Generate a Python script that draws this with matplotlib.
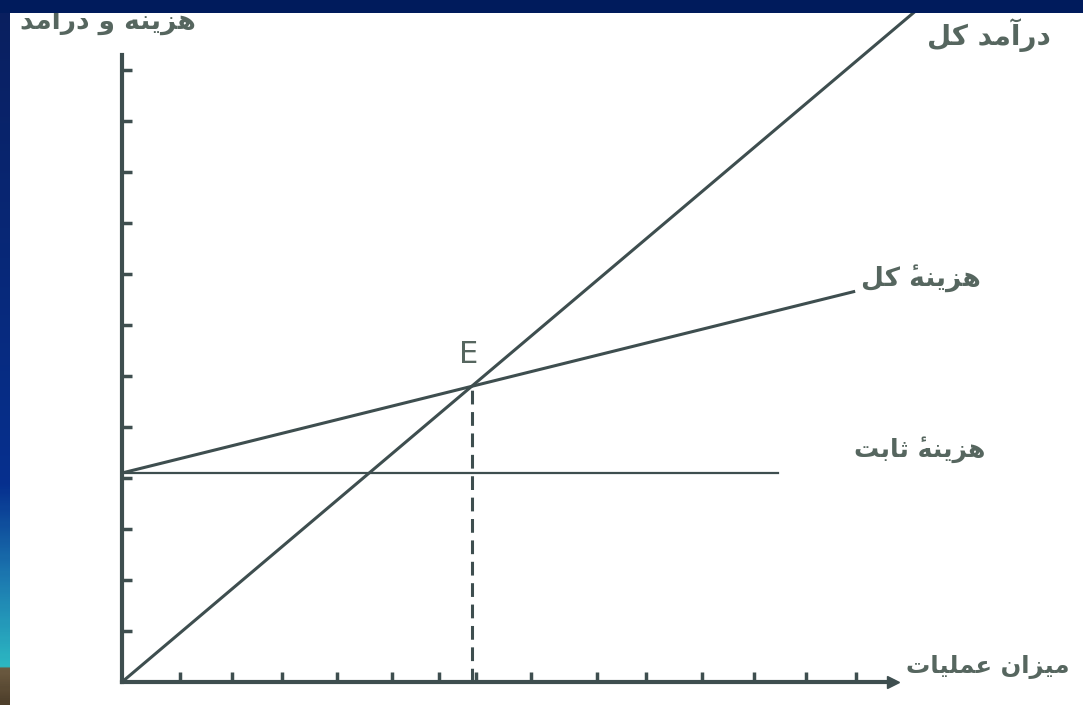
import matplotlib.pyplot as plt
import numpy as np
from matplotlib.colors import LinearSegmentedColormap
from matplotlib.patches import Rectangle

# Persian labels
y_label = 'هزینه و درآمد'
x_label = 'میزان عملیات'
revenue_label = 'درآمد کل'
total_cost_label = 'هزینهٔ کل'
fixed_cost_label = 'هزینهٔ ثابت'
point_label = 'E'

# values (axis units)
x_ticks = [1.1, 2.1, 3.05, 4.1, 5.15, 6.05, 6.75, 7.8, 9.05, 10.0, 11.05, 12.05, 13.05, 14.0]
y_ticks = [1, 2, 3, 4, 5, 6, 7, 8, 9, 10, 11, 12]
x_max = 14.7
y_max = 12.3
fixed_cost = 4.1
variable_cost = 0.255  # slope of total cost
price = 0.87           # slope of total revenue
fixed_end = 12.5
cost_end = 13.95
revenue_end = 15.6

# simple shaping: presentation forms (iso, fin, ini, med) and visual order
forms = {
    'ا': (0xFE8D, 0xFE8E), 'آ': (0xFE81, 0xFE82),
    'د': (0xFEA9, 0xFEAA), 'ر': (0xFEAD, 0xFEAE),
    'ز': (0xFEAF, 0xFEB0), 'و': (0xFEED, 0xFEEE),
    'ب': (0xFE8F, 0xFE90, 0xFE91, 0xFE92), 'ت': (0xFE95, 0xFE96, 0xFE97, 0xFE98),
    'ث': (0xFE99, 0xFE9A, 0xFE9B, 0xFE9C), 'ع': (0xFEC9, 0xFECA, 0xFECB, 0xFECC),
    'ک': (0xFB8E, 0xFB8F, 0xFB90, 0xFB91), 'ل': (0xFEDD, 0xFEDE, 0xFEDF, 0xFEE0),
    'م': (0xFEE1, 0xFEE2, 0xFEE3, 0xFEE4), 'ن': (0xFEE5, 0xFEE6, 0xFEE7, 0xFEE8),
    'ه': (0xFEE9, 0xFEEA, 0xFEEB, 0xFEEC), 'ی': (0xFBFC, 0xFBFD, 0xFBFE, 0xFBFF),
}
marks = {'\u0654'}


def shape(s):
    bases = [c for c in s]
    out = []
    for i, c in enumerate(bases):
        if c not in forms:
            out.append(c)
            continue
        j = i - 1
        while j >= 0 and bases[j] in marks:
            j -= 1
        k = i + 1
        while k < len(bases) and bases[k] in marks:
            k += 1
        prev_join = j >= 0 and bases[j] in forms and len(forms[bases[j]]) == 4
        next_join = k < len(bases) and bases[k] in forms
        f = forms[c]
        if len(f) == 4 and prev_join and next_join:
            out.append(chr(f[3]))
        elif prev_join:
            out.append(chr(f[1]))
        elif len(f) == 4 and next_join:
            out.append(chr(f[2]))
        else:
            out.append(chr(f[0]))
    # keep each mark with its base (mark first, so it lands over the base),
    # then reverse for left-to-right drawing
    groups = []
    for c in out:
        if c in marks and groups:
            groups[-1] = c + groups[-1]
        else:
            groups.append(c)
    return ''.join(groups[::-1])


line_col = '#3e4e4f'
text_col = '#56665f'

fig = plt.figure(figsize=(10.83, 7.05), dpi=100)
fig.patch.set_facecolor('white')

ax = fig.add_axes([122 / 1083, 23 / 705, (893 - 122) / 1083, (682 - 55) / 705])
ax.set_xlim(0, x_max)
ax.set_ylim(0, y_max)
ax.set_facecolor('none')
for s in ['top', 'right']:
    ax.spines[s].set_visible(False)
for s in ['left', 'bottom']:
    ax.spines[s].set_linewidth(3)
    ax.spines[s].set_color(line_col)
ax.set_xticks(x_ticks)
ax.set_yticks(y_ticks)
ax.tick_params(direction='in', length=7, width=2.5, color=line_col,
               labelbottom=False, labelleft=False)
ax.plot([1], [0], '>', color=line_col, markersize=8,
        transform=ax.get_yaxis_transform(), clip_on=False)

# break-even point
x_e = fixed_cost / (price - variable_cost)
y_e = price * x_e

x = np.array([0, revenue_end])
ax.plot(x, price * x, color=line_col, lw=2.2, clip_on=False)
x = np.array([0, cost_end])
ax.plot(x, fixed_cost + variable_cost * x, color=line_col, lw=2.2, clip_on=False)
ax.plot([0, fixed_end], [fixed_cost, fixed_cost], color=line_col, lw=1.6)
ax.plot([x_e, x_e], [0, y_e], color=line_col, lw=2.2, ls=(0, (4.5, 2.5)))

fam = ['DejaVu Sans']
ax.text(x_e - 0.05, y_e + 0.62, point_label, fontsize=22, color=text_col,
        ha='center', va='center', clip_on=False)
ax.text(16.53, 12.69, shape(revenue_label), fontsize=20, color=text_col,
        ha='center', va='center', family=fam, fontweight='bold', clip_on=False)
ax.text(15.24, 7.92, shape(total_cost_label), fontsize=19, color=text_col,
        ha='center', va='center', family=fam, fontweight='bold', clip_on=False)
ax.text(15.2, 4.55, shape(fixed_cost_label), fontsize=18, color=text_col,
        ha='center', va='center', family=fam, fontweight='bold', clip_on=False)
ax.text(16.5, 0.29, shape(x_label), fontsize=17.5, color=text_col,
        ha='center', va='center', family=fam, fontweight='bold', clip_on=False)
ax.text(-0.27, 13.0, shape(y_label), fontsize=19, color=text_col,
        ha='center', va='center', family=fam, fontweight='bold', clip_on=False)

# slide frame: dark top band and gradient strip on the left
fig.patches.append(Rectangle((0, 1 - 13 / 705), 1, 13 / 705, transform=fig.transFigure,
                             facecolor='#001b5c', edgecolor='none', zorder=10))
strip = LinearSegmentedColormap.from_list('strip', [
    (0.0, '#0a1f5e'), (0.69, '#06308f'), (0.82, '#1c78b0'),
    (0.949, '#2cb8c2'), (0.953, '#6b5a40'), (1.0, '#4e3f2b')])
sax = fig.add_axes([0, 0, 10 / 1083, 1], zorder=10)
sax.imshow(np.linspace(0, 1, 300).reshape(-1, 1), cmap=strip, aspect='auto')
sax.axis('off')

plt.savefig('out.png', dpi=100)
